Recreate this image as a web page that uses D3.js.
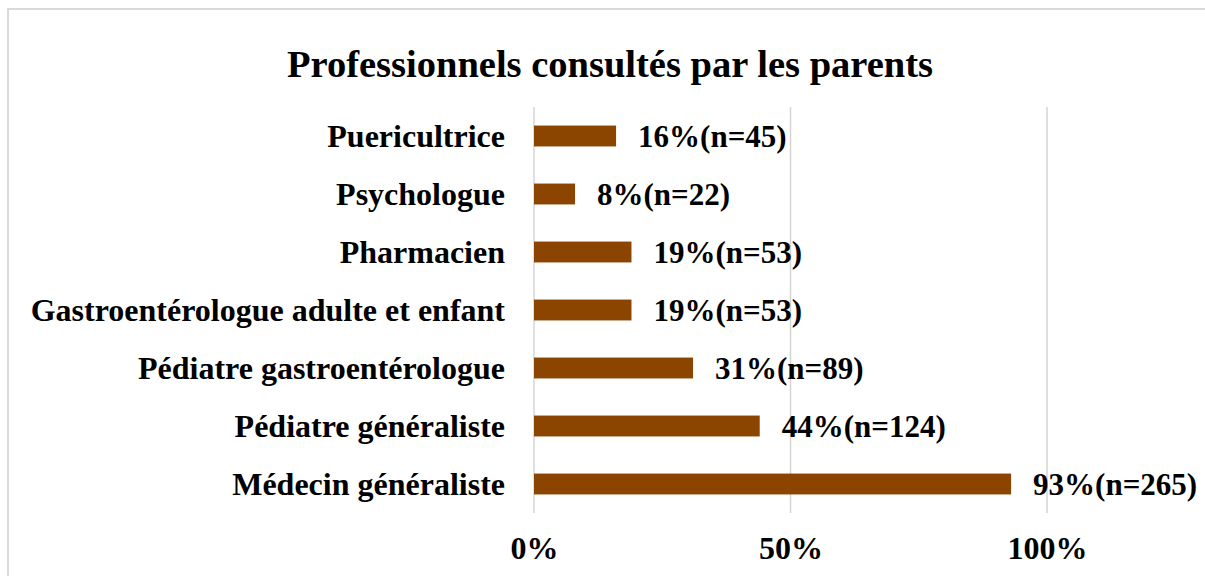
<!DOCTYPE html>
<html lang="fr">
<head>
<meta charset="UTF-8">
<script src="https://d3js.org/d3.v7.min.js"></script>
<title>Professionnels consultés par les parents</title>
<style>
  body { margin: 0; background: #fff; }
  text { font-family: "Liberation Serif", "Times New Roman", serif; font-weight: bold; fill: #000; }
</style>
</head>
<body>
<div id="chart"></div>
<script>
// donnees
var categories = ['Puericultrice', 'Psychologue', 'Pharmacien', 'Gastroentérologue adulte et enfant',
  'Pédiatre gastroentérologue', 'Pédiatre généraliste', 'Médecin généraliste']
var pourcentages = [16, 8, 19, 19, 31, 44, 93]
var effectifs = [45, 22, 53, 53, 89, 124, 265]
var ticks = [0, 50, 100]
var titre = 'Professionnels consultés par les parents'

var W = 1205, H = 576
var svg = d3.select('#chart').append('svg')
  .attr('width', W)
  .attr('height', H)

// cadre
svg.append('rect')
  .attr('x', 8).attr('y', 9)
  .attr('width', W).attr('height', H)
  .attr('fill', 'none')
  .attr('stroke', '#d9d9d9')
  .attr('stroke-width', 2)

svg.append('text')
  .attr('x', 610).attr('y', 77)
  .attr('text-anchor', 'middle')
  .style('font-size', '38.5px')
  .text(titre)

var x = d3.scaleLinear().domain([0, 100]).range([534, 1047])
var y = d3.scaleBand().domain(categories).range([107, 513]).paddingInner(0.64).paddingOuter(0.32)

// grille
svg.selectAll('line.grid')
  .data(ticks)
  .enter().append('line')
  .attr('class', 'grid')
  .attr('x1', d => x(d)).attr('x2', d => x(d))
  .attr('y1', 107).attr('y2', 513)
  .attr('stroke', '#d4d4d4')
  .attr('stroke-width', 1.5)

var xAxis = d3.axisBottom(x).tickValues(ticks).tickSize(0).tickPadding(0).tickFormat(d => d + '%')
var gx = svg.append('g').attr('transform', 'translate(0, 559)').call(xAxis)
gx.select('.domain').remove()
gx.selectAll('text').attr('dy', 0).style('font-size', '32px').style('font-family', null)

var yAxis = d3.axisLeft(y).tickSize(0).tickPadding(29)
var gy = svg.append('g').attr('transform', 'translate(534, 0)').call(yAxis)
gy.select('.domain').remove()
gy.selectAll('text').attr('dy', '0.35em').style('font-size', '32px').style('font-family', null)

svg.selectAll('rect.bar')
  .data(categories)
  .enter().append('rect')
  .attr('class', 'bar')
  .attr('x', x(0))
  .attr('y', d => y(d))
  .attr('width', (d, i) => x(pourcentages[i]) - x(0))
  .attr('height', y.bandwidth())
  .attr('fill', '#8b4500')

svg.selectAll('text.val')
  .data(categories)
  .enter().append('text')
  .attr('class', 'val')
  .attr('x', (d, i) => x(pourcentages[i]) + 22)
  .attr('y', d => y(d) + y.bandwidth() / 2)
  .attr('dy', '0.37em')
  .style('font-size', '31px')
  .text((d, i) => pourcentages[i] + '%(n=' + effectifs[i] + ')')
</script>
</body>
</html>
